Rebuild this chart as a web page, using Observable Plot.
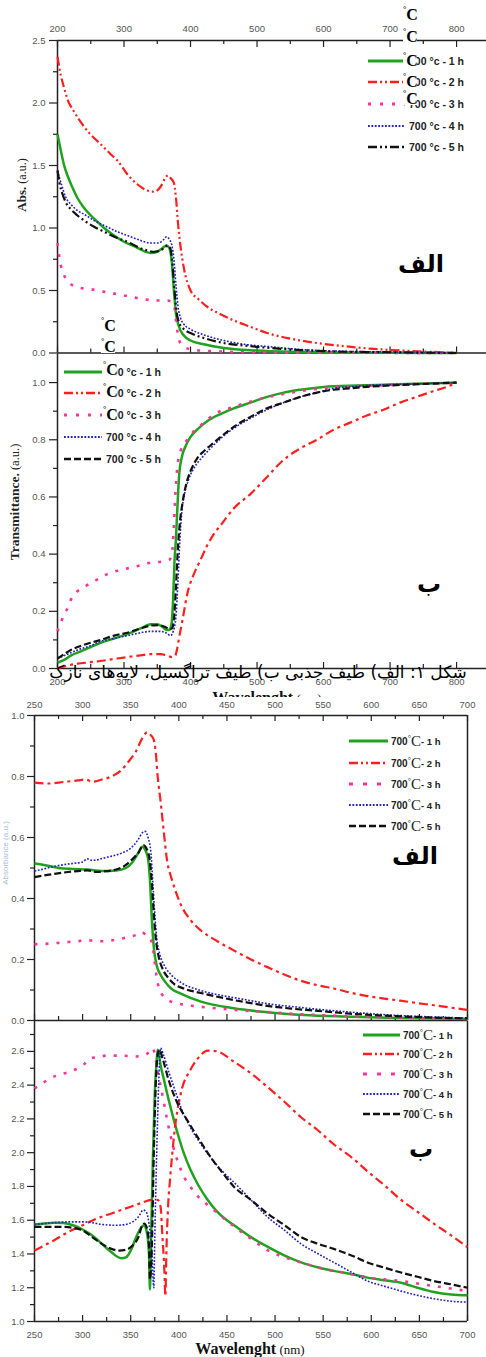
<!DOCTYPE html>
<html><head><meta charset="utf-8">
<script src="https://cdn.jsdelivr.net/npm/d3@7"></script>
<script src="https://cdn.jsdelivr.net/npm/@observablehq/plot@0.6"></script>
<style>
html,body{margin:0;padding:0;background:#fff;}
#wrap{position:relative;width:486px;height:1357px;overflow:hidden;background:#fff;}
</style></head><body><div id="wrap"></div>
<script>
// ---------- DATA ----------
const hours = ["1 h","2 h","3 h","4 h","5 h"];
const colors = ["#1fa31f","#ff1f1f","#ff3399","#2323c4","#111111"];

// Panel الف (top): absorbance 200-800 nm
const xTicksA = [200,300,400,500,600,700,800];
const xMinorA = [250,350,450,550,650,750];
const yTicksA = [0,0.5,1.0,1.5,2.0,2.5];
const yMinorA = [0.25,0.75,1.25,1.75,2.25];
const absA_1h = [[200,1.75],[205,1.62],[210,1.50],[215,1.42],[222,1.33],[230,1.24],[240,1.16],[250,1.10],[260,1.05],[270,1.00],[285,0.94],[300,0.89],[315,0.855],[330,0.815],[340,0.80],[350,0.81],[358,0.84],[364,0.86],[368,0.84],[372,0.72],[375,0.50],[378,0.32],[382,0.22],[390,0.14],[400,0.10],[420,0.07],[450,0.04],[500,0.02],[550,0.01],[600,0.005],[700,0.002],[800,0.0]];
const absA_2h = [[200,2.37],[205,2.22],[210,2.12],[215,2.03],[225,1.93],[240,1.81],[255,1.72],[265,1.67],[280,1.59],[290,1.54],[305,1.43],[320,1.35],[335,1.30],[345,1.29],[355,1.33],[362,1.40],[366,1.42],[370,1.40],[375,1.36],[378,1.25],[381,1.05],[385,0.85],[390,0.68],[400,0.50],[412,0.43],[425,0.37],[445,0.31],[465,0.26],[490,0.21],[515,0.16],[550,0.115],[590,0.08],[630,0.055],[670,0.035],[715,0.02],[760,0.01],[800,0.0]];
const absA_3h = [[200,0.88],[203,0.76],[207,0.66],[212,0.60],[220,0.55],[235,0.52],[250,0.51],[270,0.49],[290,0.47],[310,0.45],[330,0.43],[350,0.42],[365,0.42],[372,0.41],[376,0.36],[379,0.22],[383,0.10],[390,0.05],[400,0.03],[430,0.015],[500,0.005],[600,0.003],[800,0.0]];
const absA_4h = [[200,1.46],[203,1.40],[207,1.33],[212,1.25],[220,1.19],[230,1.14],[240,1.11],[255,1.06],[270,1.02],[290,0.97],[305,0.94],[320,0.91],[340,0.88],[352,0.88],[360,0.91],[364,0.93],[368,0.91],[372,0.86],[375,0.75],[378,0.55],[381,0.38],[385,0.28],[390,0.23],[400,0.19],[420,0.145],[450,0.10],[480,0.07],[520,0.05],[560,0.03],[620,0.015],[700,0.008],[800,0.0]];
const absA_5h = [[200,1.46],[203,1.36],[207,1.28],[212,1.21],[220,1.15],[230,1.10],[240,1.06],[255,1.01],[270,0.97],[290,0.92],[305,0.89],[320,0.85],[335,0.82],[345,0.81],[355,0.82],[362,0.85],[366,0.86],[370,0.83],[373,0.70],[376,0.50],[379,0.33],[383,0.24],[390,0.19],[400,0.16],[420,0.12],[450,0.08],[480,0.06],[520,0.04],[560,0.025],[620,0.012],[700,0.006],[800,0.0]];

// Panel ب (top): transmittance 200-800 nm
const yTicksB = [0,0.2,0.4,0.6,0.8,1.0];
const yMinorB = [0.1,0.3,0.5,0.7,0.9];
const trB_1h = [[200,0.02],[210,0.03],[220,0.045],[235,0.06],[250,0.075],[265,0.09],[285,0.105],[305,0.12],[325,0.14],[340,0.155],[350,0.155],[358,0.145],[364,0.135],[368,0.135],[371,0.15],[374,0.25],[376,0.38],[378,0.45],[380,0.55],[383,0.68],[387,0.74],[393,0.78],[400,0.81],[412,0.84],[425,0.865],[445,0.89],[465,0.91],[490,0.93],[515,0.95],[540,0.965],[565,0.975],[600,0.985],[650,0.99],[700,0.993],[750,0.997],[800,1.0]];
const trB_2h = [[200,0.0],[215,0.01],[230,0.017],[250,0.022],[270,0.028],[290,0.035],[305,0.04],[325,0.046],[340,0.05],[355,0.05],[365,0.045],[372,0.04],[377,0.045],[380,0.07],[383,0.11],[388,0.17],[395,0.26],[405,0.33],[415,0.38],[425,0.43],[435,0.47],[445,0.50],[465,0.56],[490,0.61],[515,0.67],[540,0.73],[565,0.77],[590,0.80],[615,0.835],[640,0.86],[665,0.885],[690,0.905],[715,0.93],[740,0.95],[765,0.97],[785,0.985],[800,1.0]];
const trB_3h = [[200,0.13],[205,0.16],[210,0.19],[215,0.21],[220,0.24],[230,0.27],[240,0.285],[255,0.305],[275,0.33],[295,0.345],[315,0.355],[340,0.37],[360,0.375],[368,0.38],[372,0.40],[375,0.50],[377,0.60],[380,0.70],[385,0.76],[395,0.80],[405,0.83],[415,0.85],[440,0.895],[465,0.915],[500,0.94],[540,0.96],[580,0.975],[620,0.985],[680,0.99],[740,0.995],[800,1.0]];
const trB_4h = [[200,0.035],[210,0.045],[220,0.055],[230,0.065],[250,0.08],[265,0.095],[285,0.105],[305,0.115],[325,0.125],[340,0.13],[355,0.13],[365,0.122],[370,0.115],[374,0.13],[378,0.18],[381,0.30],[384,0.45],[387,0.55],[391,0.61],[397,0.66],[405,0.70],[418,0.74],[430,0.77],[448,0.81],[465,0.84],[490,0.875],[515,0.905],[540,0.93],[565,0.95],[590,0.965],[615,0.98],[640,0.985],[665,0.99],[700,0.993],[750,0.996],[800,1.0]];
const trB_5h = [[200,0.035],[210,0.05],[220,0.065],[230,0.075],[250,0.09],[265,0.10],[285,0.115],[305,0.125],[325,0.14],[340,0.15],[352,0.152],[362,0.145],[368,0.138],[372,0.14],[375,0.17],[378,0.28],[381,0.42],[384,0.51],[388,0.58],[393,0.64],[400,0.69],[410,0.735],[420,0.76],[430,0.78],[448,0.815],[465,0.845],[490,0.88],[515,0.91],[540,0.93],[565,0.95],[590,0.965],[615,0.975],[640,0.98],[665,0.985],[700,0.99],[750,0.995],[800,1.0]];

// Panel الف (bottom): absorbance 250-700 nm
const xTicksC = [250,300,350,400,450,500,550,600,650,700];
const xMinorC = [275,325,375,425,475,525,575,625,675];
const yTicksC = [0,0.2,0.4,0.6,0.8,1.0];
const yMinorC = [0.1,0.3,0.5,0.7,0.9];
const absC_1h = [[250,0.515],[260,0.51],[275,0.50],[290,0.497],[305,0.495],[320,0.49],[335,0.492],[345,0.50],[352,0.52],[358,0.55],[362,0.57],[365,0.56],[368,0.53],[370,0.46],[372,0.33],[374,0.24],[377,0.18],[381,0.15],[385,0.13],[392,0.105],[402,0.088],[423,0.062],[457,0.04],[492,0.027],[530,0.018],[570,0.013],[620,0.009],[700,0.005]];
const absC_2h = [[250,0.78],[265,0.777],[280,0.782],[295,0.787],[303,0.79],[310,0.783],[320,0.79],[330,0.80],[340,0.82],[348,0.85],[355,0.88],[362,0.925],[367,0.945],[371,0.935],[374,0.92],[376,0.88],[378,0.80],[381,0.72],[384,0.63],[388,0.52],[392,0.47],[396,0.43],[402,0.38],[412,0.33],[423,0.295],[440,0.26],[457,0.23],[475,0.20],[492,0.175],[510,0.15],[527,0.13],[545,0.115],[561,0.105],[580,0.09],[596,0.08],[613,0.072],[630,0.065],[648,0.057],[665,0.05],[683,0.042],[700,0.035]];
const absC_3h = [[250,0.25],[265,0.252],[280,0.256],[295,0.26],[305,0.263],[320,0.26],[335,0.265],[345,0.272],[355,0.28],[361,0.29],[366,0.28],[370,0.27],[373,0.24],[375,0.19],[377,0.14],[380,0.10],[384,0.08],[390,0.065],[400,0.055],[423,0.045],[457,0.035],[490,0.028],[530,0.02],[570,0.015],[620,0.01],[700,0.005]];
const absC_4h = [[250,0.49],[260,0.497],[270,0.505],[285,0.513],[300,0.52],[305,0.53],[310,0.525],[325,0.535],[340,0.548],[350,0.565],[357,0.59],[362,0.615],[365,0.62],[368,0.60],[371,0.55],[373,0.45],[375,0.35],[377,0.27],[380,0.22],[385,0.18],[392,0.15],[402,0.125],[423,0.098],[440,0.085],[457,0.075],[475,0.065],[492,0.055],[520,0.045],[550,0.035],[580,0.027],[620,0.018],[660,0.012],[700,0.008]];
const absC_5h = [[250,0.47],[265,0.478],[280,0.485],[295,0.49],[305,0.492],[315,0.487],[325,0.49],[335,0.495],[345,0.51],[352,0.53],[358,0.55],[363,0.575],[367,0.56],[370,0.52],[372,0.45],[374,0.35],[376,0.27],[379,0.21],[383,0.17],[389,0.14],[395,0.12],[405,0.105],[423,0.09],[440,0.078],[457,0.067],[475,0.057],[492,0.048],[520,0.038],[550,0.03],[580,0.022],[620,0.015],[660,0.01],[700,0.007]];

// Panel ب (bottom): 250-700 nm
const yTicksD = [1.0,1.2,1.4,1.6,1.8,2.0,2.2,2.4,2.6];
const yMinorD = [1.1,1.3,1.5,1.7,1.9,2.1,2.3,2.5,2.7];
const valD_1h = [[250,1.575],[260,1.58],[270,1.585],[280,1.583],[290,1.57],[300,1.545],[310,1.51],[320,1.46],[330,1.41],[340,1.375],[345,1.38],[350,1.42],[355,1.49],[360,1.55],[364,1.57],[367,1.52],[369,1.40],[370,1.19],[371,1.45],[373,1.95],[375,2.35],[377,2.55],[378,2.61],[381,2.52],[385,2.42],[390,2.30],[395,2.19],[400,2.09],[405,2.00],[412,1.90],[420,1.81],[430,1.72],[440,1.65],[450,1.60],[460,1.56],[475,1.50],[493,1.44],[510,1.39],[527,1.35],[545,1.32],[561,1.30],[580,1.28],[596,1.26],[613,1.245],[631,1.23],[648,1.20],[665,1.175],[683,1.16],[700,1.155]];
const valD_2h = [[250,1.42],[260,1.45],[270,1.48],[285,1.53],[300,1.57],[315,1.61],[330,1.64],[345,1.67],[360,1.70],[372,1.72],[378,1.72],[381,1.68],[383,1.50],[385,1.30],[386,1.15],[387,1.40],[389,1.70],[391,1.85],[395,2.10],[402,2.35],[412,2.49],[420,2.56],[430,2.605],[440,2.60],[457,2.54],[475,2.47],[492,2.39],[510,2.30],[527,2.21],[545,2.13],[561,2.05],[580,1.97],[596,1.89],[613,1.81],[631,1.72],[648,1.65],[665,1.58],[683,1.51],[700,1.44]];
const valD_3h = [[250,2.38],[258,2.41],[266,2.44],[275,2.46],[284,2.475],[295,2.50],[301,2.52],[308,2.56],[315,2.565],[325,2.575],[340,2.575],[355,2.57],[365,2.58],[370,2.60],[373,2.62],[376,2.55],[379,2.45],[382,2.37],[385,2.28],[388,2.19],[394,2.04],[400,1.93],[406,1.85],[413,1.79],[420,1.74],[430,1.69],[445,1.62],[458,1.56],[475,1.49],[493,1.42],[510,1.38],[527,1.35],[545,1.32],[561,1.30],[580,1.28],[596,1.26],[613,1.25],[631,1.24],[648,1.225],[665,1.21],[683,1.195],[700,1.18]];
const valD_4h = [[250,1.575],[260,1.58],[270,1.585],[285,1.59],[300,1.59],[310,1.585],[320,1.575],[335,1.57],[345,1.575],[352,1.59],[358,1.62],[363,1.66],[366,1.65],[369,1.58],[372,1.40],[374,1.20],[375,1.50],[377,2.00],[379,2.40],[381,2.62],[384,2.58],[390,2.47],[396,2.37],[402,2.27],[412,2.15],[423,2.05],[436,1.95],[447,1.88],[458,1.82],[475,1.72],[492,1.62],[510,1.54],[527,1.46],[545,1.40],[561,1.35],[580,1.29],[596,1.24],[613,1.21],[631,1.18],[648,1.155],[665,1.135],[683,1.12],[700,1.115]];
const valD_5h = [[250,1.56],[265,1.56],[280,1.56],[290,1.555],[300,1.54],[310,1.50],[320,1.46],[330,1.43],[338,1.42],[345,1.425],[352,1.45],[358,1.50],[362,1.57],[364,1.58],[367,1.55],[369,1.45],[370,1.25],[372,1.45],[374,2.0],[376,2.4],[378,2.58],[380,2.61],[383,2.56],[390,2.42],[398,2.30],[409,2.19],[422,2.07],[436,1.95],[447,1.87],[457,1.80],[475,1.72],[492,1.64],[510,1.57],[527,1.50],[545,1.46],[561,1.43],[580,1.39],[596,1.35],[613,1.32],[631,1.29],[648,1.265],[665,1.24],[683,1.22],[700,1.20]];

// ---------- STYLES ----------
const widths = [2.5,2.2,2.6,1.6,2.2];
const dashA = [null,"9,3,2,3,2,3","3,8","1.8,1.6","9,3,2,3,2,3"];
const dashB = [null,"9,4,3,4","3,8","1.8,1.6","7,3"];
const dashCD = [null,"9,4,3,4","3,8","1.8,1.6","7,3"];
const legDashA = [null,"9,3,2,3,2,3","3,9","1.8,1.6","9,3,2,3,2,3"];
const legDashB = [null,"9,3,2,3,2,3","3,9","1.8,1.6","7,3"];
const legDashCD = [null,"9,3,2,3,2,3","4,10","1.8,1.6","7,3"];

const W = 486;
const wrap = document.getElementById("wrap");
const AX = "#222";
const TXT = "#555";

function pxY(P){ return (P.height-P.mt-P.mb)/(P.yd[1]-P.yd[0]); }
function pxX(P){ return (W-P.ml-P.mr)/(P.xd[1]-P.xd[0]); }
function xTicks(P, vals, yAt, len, dir){
  const k = len/pxY(P)*dir;
  return Plot.ruleX(vals, {x: d=>d, y1: yAt, y2: yAt + k, stroke: AX, strokeWidth: 1.2});
}
function yTicks(P, vals, xAt, len, dir){
  const k = len/pxX(P)*dir;
  return Plot.ruleY(vals, {y: d=>d, x1: xAt, x2: xAt - k, stroke: AX, strokeWidth: 1.2});
}
function lines(series, dash){
  return series.map((s,i)=>Plot.line(s, {x: d=>d[0], y: d=>d[1], stroke: colors[i], strokeWidth: widths[i],
    strokeDasharray: dash[i] || undefined, curve: "monotone-x", strokeLinecap: "butt"}));
}
function mount(P, marks, bg){
  const svg = Plot.plot({width: W, height: P.height, marginTop: P.mt, marginBottom: P.mb, marginLeft: P.ml, marginRight: P.mr,
    x: {domain: P.xd}, y: {domain: P.yd},
    style: {fontFamily: "'Liberation Sans', Arial, sans-serif", background: bg || "transparent"},
    marks});
  svg.style.position = "absolute"; svg.style.left = "0px"; svg.style.top = P.top + "px";
  wrap.appendChild(svg);
}
const fmt1 = d3.format(".1f");

// ---------- PANEL A ----------
const PA = {top:0, height:360, mt:40, mb:7.5, ml:57, mr:0, xd:[200,845], yd:[0,2.5]};
mount(PA, [
  Plot.ruleX([PA.xd[0]], {y1: PA.yd[0], y2: PA.yd[1], stroke: AX, strokeWidth: 1.5}),
  Plot.ruleY([PA.yd[1]], {stroke: AX, strokeWidth: 1.5}),
  Plot.ruleY([PA.yd[0]], {stroke: AX, strokeWidth: 1.5}),
  Plot.axisX({ticks: xTicksA, anchor: "top", tickSize: 0, tickPadding: 9, fontSize: 9.5, fill: TXT, label: null, tickFormat: d=>String(d)}),
  Plot.axisY({ticks: yTicksA, anchor: "left", tickSize: 0, tickPadding: 12, fontSize: 9.5, fill: TXT, label: null, tickFormat: fmt1}),
  xTicks(PA, xTicksA, PA.yd[1], 7, -1),
  xTicks(PA, xMinorA, PA.yd[1], 4, -1),
  xTicks(PA, xTicksA, PA.yd[0], 6, 1),
  xTicks(PA, xMinorA, PA.yd[0], 4, 1),
  yTicks(PA, yTicksA, PA.xd[0], 8, 1),
  yTicks(PA, yMinorA, PA.xd[0], 4, 1),
  ...lines([absA_1h, absA_2h, absA_3h, absA_4h, absA_5h], dashA)
]);

// ---------- PANEL B ----------
const PB = {top:350, height:360, mt:3.5, mb:42, ml:57, mr:0, xd:[200,845], yd:[0,1.1]};
mount(PB, [
  Plot.ruleX([PB.xd[0]], {y1: PB.yd[0], y2: PB.yd[1], stroke: AX, strokeWidth: 1.5}),
  Plot.ruleY([PB.yd[0]], {stroke: AX, strokeWidth: 1.5}),
  Plot.axisX({ticks: xTicksA, anchor: "bottom", tickSize: 0, tickPadding: 10, fontSize: 9.5, fill: TXT, label: null, tickFormat: d=>String(d)}),
  Plot.axisY({ticks: yTicksB, anchor: "left", tickSize: 0, tickPadding: 12, fontSize: 9.5, fill: TXT, label: null, tickFormat: fmt1}),
  xTicks(PB, xTicksA, PB.yd[0], 6, 1),
  xTicks(PB, xMinorA, PB.yd[0], 4, 1),
  yTicks(PB, yTicksB, PB.xd[0], 8, 1),
  yTicks(PB, yMinorB, PB.xd[0], 4, 1),
  ...lines([trB_1h, trB_2h, trB_3h, trB_4h, trB_5h], dashB)
]);

// under-layer text (its lower part is hidden by the next panel)
const under = d3.create("svg").attr("width", W).attr("height", 697)
  .style("position","absolute").style("left","0px").style("top","0px");
const wl1 = under.append("text").attr("x", 267).attr("y", 703).attr("text-anchor","middle")
  .style("font-family","'Liberation Serif', serif").style("fill","#111");
wl1.append("tspan").style("font-weight","bold").style("font-size","16px").text("Wavelenght");
wl1.append("tspan").style("font-size","13px").text(" (nm)");
wrap.appendChild(under.node());

// ---------- PANEL C ----------
const PC = {top:697, height:330, mt:18, mb:7, ml:34, mr:19, xd:[250,700], yd:[0,1.0]};
mount(PC, [
  Plot.ruleX([PC.xd[0]], {y1: PC.yd[0], y2: PC.yd[1], stroke: AX, strokeWidth: 1.5}),
  Plot.ruleX([PC.xd[1]], {y1: PC.yd[0], y2: PC.yd[1], stroke: AX, strokeWidth: 1.5}),
  Plot.ruleY([PC.yd[1]], {stroke: AX, strokeWidth: 1.5}),
  Plot.ruleY([PC.yd[0]], {stroke: AX, strokeWidth: 1.5}),
  Plot.axisX({ticks: xTicksC, anchor: "top", tickSize: 0, tickPadding: 8, fontSize: 9.5, fill: TXT, label: null, tickFormat: d=>String(d)}),
  Plot.axisY({ticks: yTicksC, anchor: "left", tickSize: 0, tickPadding: 10, fontSize: 9.5, fill: TXT, label: null, tickFormat: fmt1}),
  xTicks(PC, xTicksC, PC.yd[1], 6, -1),
  xTicks(PC, xMinorC, PC.yd[1], 4, -1),
  xTicks(PC, xTicksC, PC.yd[0], 6, 1),
  xTicks(PC, xMinorC, PC.yd[0], 4, 1),
  yTicks(PC, yTicksC, PC.xd[0], 7, 1),
  yTicks(PC, yMinorC, PC.xd[0], 4, 1),
  ...lines([absC_1h, absC_2h, absC_3h, absC_4h, absC_5h], dashCD)
], "white");

// ---------- PANEL D ----------
const PD = {top:1020, height:337, mt:0.5, mb:36, ml:34, mr:19, xd:[250,700], yd:[1.0,2.78]};
mount(PD, [
  Plot.ruleX([PD.xd[0]], {y1: PD.yd[0], y2: PD.yd[1], stroke: AX, strokeWidth: 1.5}),
  Plot.ruleX([PD.xd[1]], {y1: PD.yd[0], y2: PD.yd[1], stroke: AX, strokeWidth: 1.5}),
  Plot.ruleY([PD.yd[0]], {stroke: AX, strokeWidth: 1.5}),
  Plot.axisX({ticks: xTicksC, anchor: "bottom", tickSize: 0, tickPadding: 10, fontSize: 9.5, fill: TXT, label: null, tickFormat: d=>String(d)}),
  Plot.axisY({ticks: yTicksD, anchor: "left", tickSize: 0, tickPadding: 10, fontSize: 9.5, fill: TXT, label: null, tickFormat: fmt1}),
  xTicks(PD, xTicksC, PD.yd[0], 6, 1),
  xTicks(PD, xMinorC, PD.yd[0], 4, 1),
  yTicks(PD, yTicksD, PD.xd[0], 7, 1),
  yTicks(PD, yMinorD, PD.xd[0], 4, 1),
  ...lines([valD_1h, valD_2h, valD_3h, valD_4h, valD_5h], dashCD)
]);

// ---------- OVERLAY: legends, labels, caption ----------
const ov = d3.create("svg").attr("width", W).attr("height", 1357)
  .style("position","absolute").style("left","0px").style("top","0px");
const SANS = "'Liberation Sans', Arial, sans-serif";
const SERIF = "'Liberation Serif', 'Times New Roman', serif";

function legendLine(x1, x2, y, i, dash){
  ov.append("line").attr("x1", x1).attr("x2", x2).attr("y1", y).attr("y2", y)
    .attr("stroke", colors[i]).attr("stroke-width", widths[i] + 0.3)
    .attr("stroke-dasharray", dash[i] || null);
}
function legendAB(x1, x2, tx, rows, dash){
  rows.forEach((y,i)=>{
    legendLine(x1, x2, y, i, dash);
    ov.append("text").attr("x", tx).attr("y", y + 4)
      .style("font-family", SANS).style("font-weight","bold").style("font-size","10.5px").style("fill","#222")
      .text("700 °c - " + hours[i]);
  });
}
function legendCD(x1, x2, tx, rows){
  rows.forEach((y,i)=>{
    legendLine(x1, x2, y, i, legDashCD);
    const t = ov.append("text").attr("x", tx).attr("y", y + 4).style("fill","#222");
    t.append("tspan").style("font-family", SANS).style("font-weight","bold").style("font-size","10px").text("700");
    t.append("tspan").style("font-family", SERIF).style("font-size","8px").attr("dy", -4).text("°");
    t.append("tspan").style("font-family", SERIF).style("font-size","15px").attr("dy", 5).text("C");
    t.append("tspan").style("font-family", SANS).style("font-weight","bold").style("font-size","9.5px").attr("dy", -1).text("- " + hours[i]);
  });
}
function artifact(x, y){
  ov.append("rect").attr("x", x).attr("y", y - 12).attr("width", 14).attr("height", 13).attr("fill","white");
  const t = ov.append("text").attr("x", x).attr("y", y).style("fill","#000").style("font-family", SERIF).style("font-weight","bold");
  t.append("tspan").style("font-size","8px").attr("dy", -8).text("°");
  t.append("tspan").style("font-size","16px").attr("dy", 8).text("C");
}

legendAB(368, 405, 409, [61, 82, 104, 126, 147], legDashA);
legendAB(64, 102, 106, [372, 393, 415, 437, 459], legDashB);
legendCD(349, 388, 391, [741, 763, 784, 805, 826]);
legendCD(363, 400, 403, [1035, 1054, 1074, 1094, 1114]);

[20, 42, 66, 87, 104].forEach(y=>artifact(403, y));
[331, 352].forEach(y=>artifact(101, y));
[375, 397, 420].forEach(y=>artifact(103, y));

function marker(txt, x, y){
  ov.append("text").attr("x", x).attr("y", y).attr("text-anchor","middle")
    .style("font-family","'DejaVu Sans', sans-serif").style("font-weight","bold").style("font-size","24px").style("fill","#000")
    .text(txt);
}
marker("الف", 421, 272);
marker("ب", 429, 592);
marker("الف", 415, 864);
marker("ب", 421, 1157);

const ya = ov.append("text").attr("transform","translate(26,185) rotate(-90)").attr("text-anchor","middle")
  .style("font-family", SERIF).style("fill","#222");
ya.append("tspan").style("font-weight","bold").style("font-size","13px").text("Abs.");
ya.append("tspan").style("font-size","12px").text(" (a.u.)");
const yb = ov.append("text").attr("transform","translate(19,502) rotate(-90)").attr("text-anchor","middle")
  .style("font-family", SERIF).style("fill","#222");
yb.append("tspan").style("font-weight","bold").style("font-size","13.5px").text("Transmittance.");
yb.append("tspan").style("font-size","12.5px").text(" (a.u.)");
ov.append("text").attr("transform","translate(8,853) rotate(-90)").attr("text-anchor","middle")
  .style("font-family", SANS).style("font-size","8px").style("fill","#a9bcd8").text("Absorbance (a.u.)");
const wl2 = ov.append("text").attr("x", 250).attr("y", 1354).attr("text-anchor","middle")
  .style("font-family", SERIF).style("fill","#111");
wl2.append("tspan").style("font-weight","bold").style("font-size","16px").text("Wavelenght");
wl2.append("tspan").style("font-size","13px").text(" (nm)");

ov.append("text").attr("x", 258).attr("y", 678).attr("text-anchor","middle").attr("direction","rtl")
  .style("font-family","'DejaVu Sans', sans-serif").style("font-size","17px").style("fill","#000")
  .text("شکل ۱: الف) طیف جذبی ب) طیف تراگسیل، لایه‌های نازک");

wrap.appendChild(ov.node());
</script></body></html>
